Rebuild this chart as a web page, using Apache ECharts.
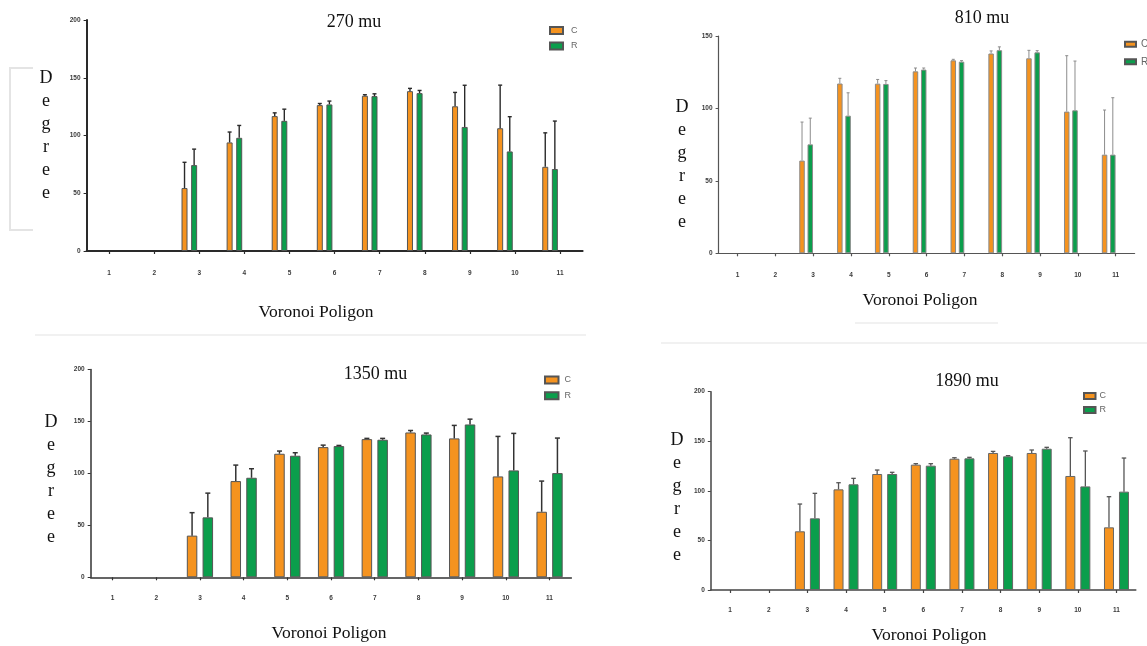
<!DOCTYPE html>
<html><head><meta charset="utf-8">
<script src="https://cdn.jsdelivr.net/npm/echarts@6/dist/echarts.min.js"></script>
<style>html,body{margin:0;padding:0;background:#fff}#c{width:1147px;height:646px}</style>
</head><body><div id="c"></div>
<script>
// ---------- DATA ----------
const categories = ['1','2','3','4','5','6','7','8','9','10','11'];
const panelTitles = ['270 mu','810 mu','1350 mu','1890 mu'];
const seriesNames = ['C','R'];
const xAxisTitle = 'Voronoi Poligon';
const yAxisTitle = 'Degree';

// 270 mu
const c270 = [null,null,54.5,94,116.8,126.3,134.4,138.4,125.3,106.3,72.9];
const c270Err = [null,null,22.3,9,2.8,1.4,0.9,2.4,12,37.3,29.4];
const r270 = [null,null,74.4,98,112.7,126.9,134.1,136.7,107.4,86.2,71];
const r270Err = [null,null,13.8,10.7,10.1,2.9,2,2.3,36.1,30.1,41.5];
// 810 mu
const c810 = [null,null,64,117.2,117.1,125.6,133.2,137.9,134.6,97.8,68.1];
const c810Err = [null,null,26.6,3.6,2.9,2.3,0.7,1.8,5.5,38.6,30.8];
const r810 = [null,null,75.2,95,116.9,126.8,132.3,140.2,138.7,98.7,68.1];
const r810Err = [null,null,18.1,15.8,2.3,1.1,0.7,2.3,1.2,34,39.3];
// 1350 mu
const c1350 = [null,null,40.1,92.6,118.9,125.3,133,139.4,133.7,97.1,63.1];
const c1350Err = [null,null,22.1,15.4,2.6,1.9,0.7,1.9,12.5,38.5,29.5];
const r1350 = [null,null,57.7,95.8,117,126.3,132.4,137.5,147.1,102.9,100.3];
const r1350Err = [null,null,23.3,8.7,2.9,0.6,1.3,1.3,5.1,35.6,33.7];
// 1890 mu
const c1890 = [null,null,59.2,101.5,117,126.4,132.4,138.2,138.2,115,63.2];
const c1890Err = [null,null,27.5,6.7,4,1,1,1.6,3,38.6,30.9];
const r1890 = [null,null,72.3,106.6,117,125.4,132.8,134.8,142.5,104.5,99.2];
const r1890Err = [null,null,25.2,6,1.7,2,1,0.7,1.4,35.7,33.9];

const yMax = [200,150,200,200];
const yInterval = 50;

const panelData = [
  [c270, c270Err, r270, r270Err],
  [c810, c810Err, r810, r810Err],
  [c1350, c1350Err, r1350, r1350Err],
  [c1890, c1890Err, r1890, r1890Err]
];

// ---------- LAYOUT / STYLE ----------
const colors = ['#F5931F', '#0B9E4C'];
const layouts = [
  {left:86.6, top:20, width:496, height:231, shift:10, barW:6, gap:0.6,
   axisC:'#2a2a2a', axisW:2, errC:'#2a2a2a', errW:1.4, cap:4, border:'#555', labelMargin:19,
   title:[354,22.5], deg:[46,136], xt:[316,312],
   legend:{left:549, top:25.5, iw:13, ih:7, gap:5.5, fs:9, pad:3}},
  {left:718.6, top:36, width:416, height:217.3, shift:7, barW:5.5, gap:0.5,
   axisC:'#555', axisW:1.2, errC:'#8c8c8c', errW:1, cap:3, border:'#8a8a8a', labelMargin:18.5,
   title:[982,18.5], deg:[682,165], xt:[920,300],
   legend:{left:1124, top:39.2, iw:11, ih:5, gap:7.6, fs:10, pad:0}},
  {left:90.7, top:369.5, width:480.7, height:207.8, shift:0, barW:10.5, gap:0.5,
   axisC:'#333', axisW:1.5, errC:'#333', errW:1.5, cap:5, border:'#555', labelMargin:17,
   title:[375.5,374], deg:[51,479.5], xt:[329,633],
   legend:{left:544, top:375, iw:13.5, ih:7, gap:5.7, fs:9, pad:1}},
  {left:710.8, top:391.7, width:425, height:198.3, shift:0, barW:10, gap:0.5,
   axisC:'#444', axisW:1.5, errC:'#555', errW:1.3, cap:4.5, border:'#666', labelMargin:17,
   title:[967,381], deg:[677,497.5], xt:[929,635],
   legend:{left:1083, top:391, iw:11.5, ih:6, gap:4, fs:9, pad:-1}}
];

const grids = [], xAxes = [], yAxes = [], series = [], legends = [], graphics = [];
const tickFont = {fontSize:6.5, fontWeight:'bold', color:'#3a3a3a', fontFamily:'Liberation Sans, Arial, sans-serif'};
const serif = 'Liberation Serif, Times New Roman, serif';

layouts.forEach((L, p) => {
  const gA = grids.length;
  grids.push({left:L.left, top:L.top, width:L.width, height:L.height, containLabel:false});
  grids.push({left:L.left - L.shift, top:L.top, width:L.width, height:L.height, containLabel:false});
  // visible axes
  xAxes.push({type:'category', gridIndex:gA, data:categories, boundaryGap:true,
    axisLine:{show:true, lineStyle:{color:L.axisC, width:L.axisW}},
    axisTick:{show:true, alignWithLabel:true, length:3, lineStyle:{color:L.axisC, width:1.2}},
    axisLabel:Object.assign({margin:L.labelMargin}, tickFont), splitLine:{show:false}});
  yAxes.push({type:'value', gridIndex:gA, min:0, max:yMax[p], interval:yInterval,
    axisLine:{show:true, lineStyle:{color:L.axisC, width:L.axisW}},
    axisTick:{show:true, length:3, lineStyle:{color:L.axisC, width:1}},
    axisLabel:Object.assign({margin:6}, tickFont), splitLine:{show:false}});
  // bar axes (hidden)
  xAxes.push({type:'category', gridIndex:gA+1, data:categories, boundaryGap:true, show:false});
  yAxes.push({type:'value', gridIndex:gA+1, min:0, max:yMax[p], interval:yInterval, show:false});
  const xi = xAxes.length - 1, yi = yAxes.length - 1;
  const gapPx = L.barW * L.gap;
  const off = (L.barW + gapPx) / 2;
  [0,1].forEach(s => {
    const vals = panelData[p][s*2], errs = panelData[p][s*2+1];
    series.push({type:'bar', name:seriesNames[s], xAxisIndex:xi, yAxisIndex:yi,
      data:vals, barWidth:L.barW, barGap:(L.gap*100)+'%',
      itemStyle:{color:colors[s], borderColor:L.border, borderWidth:1},
      emphasis:{disabled:true}, silent:true, z:2});
  });
  [0,1].forEach(s => {
    const vals = panelData[p][s*2], errs = panelData[p][s*2+1];
    const d = [];
    vals.forEach((v, i) => { if (v != null) d.push([i, v, errs[i]]); });
    const dx = s === 0 ? -off : off;
    series.push({type:'custom', xAxisIndex:xi, yAxisIndex:yi, data:d, z:3, silent:true,
      encode:{x:0, y:1},
      renderItem: function(params, api){
        const i = api.value(0), m = api.value(1), e = api.value(2);
        const p0 = api.coord([i, m]), p1 = api.coord([i, m + e]);
        const x = p0[0] + dx;
        const st = {stroke:L.errC, lineWidth:L.errW};
        return {type:'group', children:[
          {type:'line', shape:{x1:x, y1:p0[1], x2:x, y2:p1[1]}, style:st},
          {type:'line', shape:{x1:x - L.cap/2, y1:p1[1], x2:x + L.cap/2, y2:p1[1]}, style:st}
        ]};
      }});
  });
  legends.push({data:seriesNames, orient:'vertical', left:L.legend.left, top:L.legend.top,
    icon:'rect', itemWidth:L.legend.iw, itemHeight:L.legend.ih, itemGap:L.legend.gap,
    selectedMode:false, padding:0,
    textStyle:{fontSize:L.legend.fs, lineHeight:10, color:'#666', fontFamily:'Liberation Sans, Arial, sans-serif',
      padding:[0,0,0,L.legend.pad]}});
  graphics.push({type:'text', left:null, x:L.title[0], y:L.title[1],
    style:{text:panelTitles[p], font:'18px ' + serif, fill:'#111', textAlign:'center', textVerticalAlign:'middle'}});
  graphics.push({type:'text', x:L.deg[0], y:L.deg[1],
    style:{text:yAxisTitle.split('').join('\n'), font:'18px ' + serif, lineHeight:23, fill:'#111', textAlign:'center', textVerticalAlign:'middle'}});
  graphics.push({type:'text', x:L.xt[0], y:L.xt[1],
    style:{text:xAxisTitle, font:'17.5px ' + serif, fill:'#111', textAlign:'center', textVerticalAlign:'middle'}});
});

// faint scan artefacts
graphics.push({type:'polyline', shape:{points:[[33,68],[10,68],[10,230],[33,230]]}, style:{stroke:'#e4e4e4', lineWidth:2, fill:null}});
graphics.push({type:'line', shape:{x1:35,y1:335,x2:586,y2:335}, style:{stroke:'#f1f1f1', lineWidth:2}});
graphics.push({type:'line', shape:{x1:661,y1:343,x2:1147,y2:343}, style:{stroke:'#f1f1f1', lineWidth:2}});
graphics.push({type:'line', shape:{x1:855,y1:323,x2:998,y2:323}, style:{stroke:'#f1f1f1', lineWidth:2}});

const chart = echarts.init(document.getElementById('c'), null, {renderer:'canvas'});
chart.setOption({
  animation:false, backgroundColor:'#fff',
  grid:grids, xAxis:xAxes, yAxis:yAxes, series:series, legend:legends, graphic:graphics
});
</script></body></html>
